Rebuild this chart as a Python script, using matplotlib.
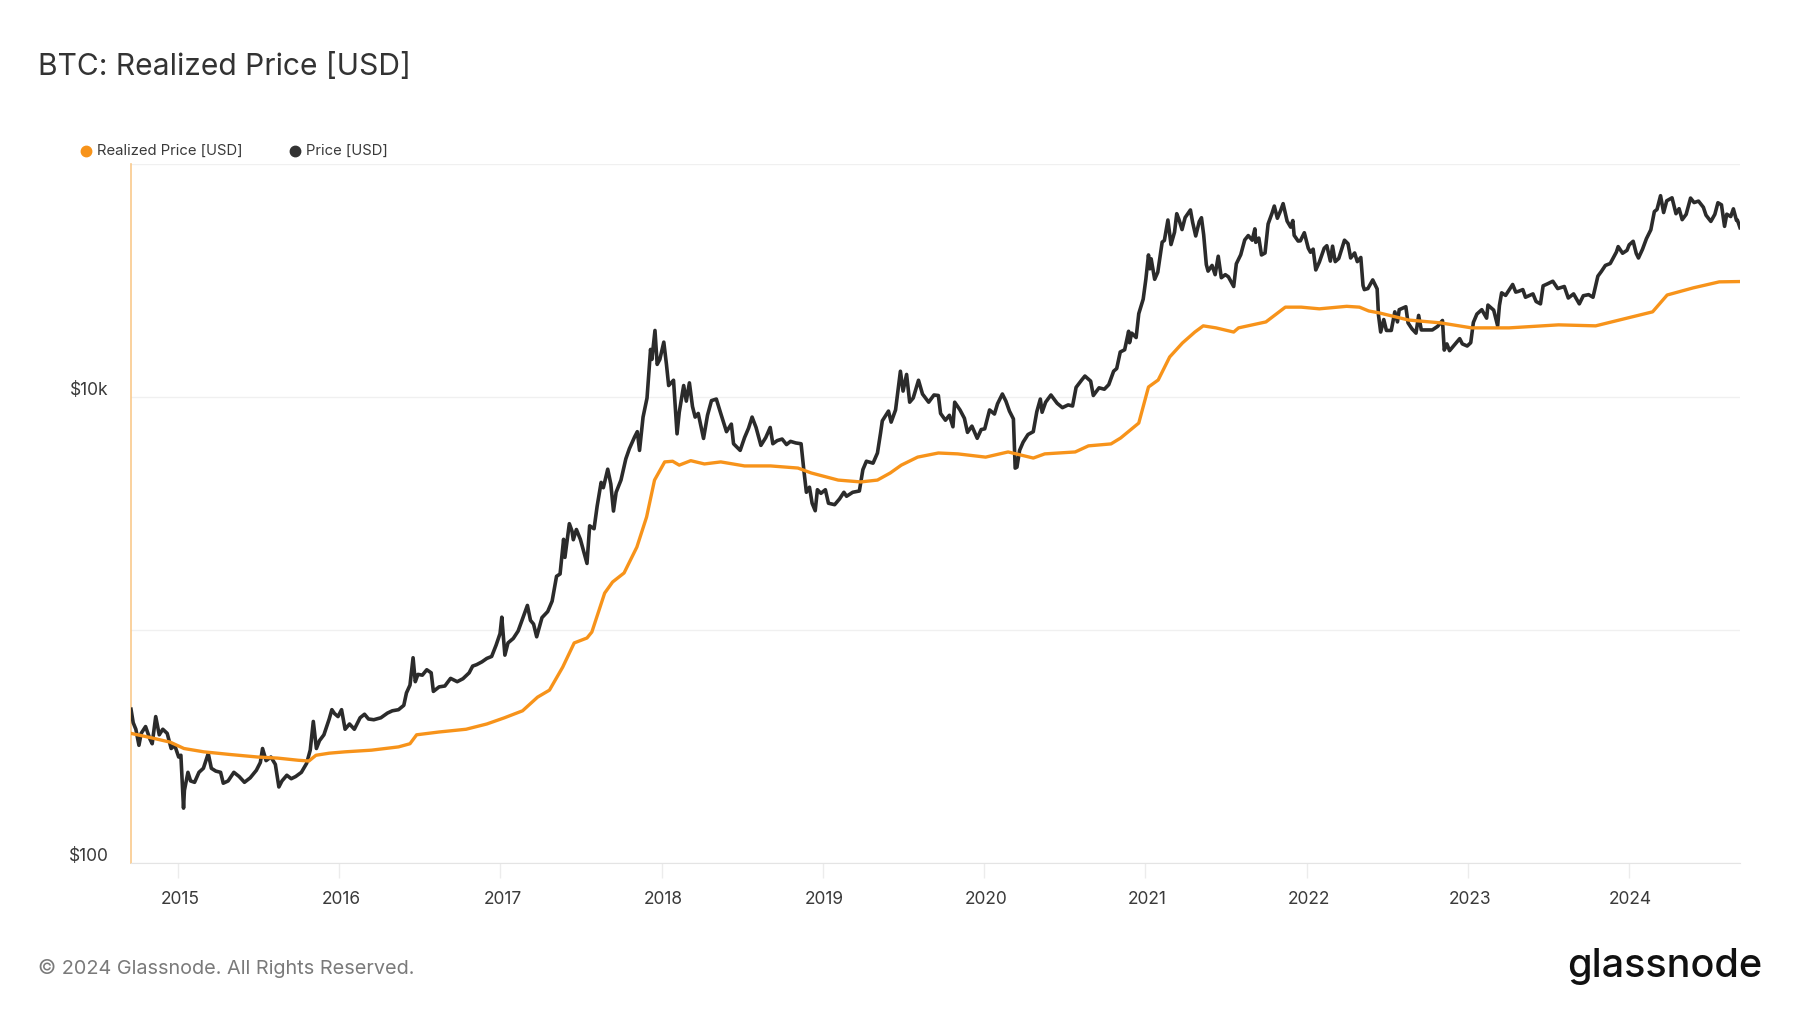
import numpy as np
import pandas as pd
import matplotlib
matplotlib.use("Agg")
import matplotlib.pyplot as plt
import matplotlib.dates as mdates
from matplotlib.lines import Line2D
from matplotlib.transforms import ScaledTranslation

plt.rcParams['font.family'] = ['Inter', 'DejaVu Sans']

# BTC price [USD] (dates, close)
price_points = [
    ("2014-09-17", 457), ("2014-09-22", 400), ("2014-09-28", 375), ("2014-10-05", 320), ("2014-10-10", 360),
    ("2014-10-20", 385), ("2014-10-30", 340), ("2014-11-04", 325), ("2014-11-12", 425), ("2014-11-20", 355),
    ("2014-11-28", 375), ("2014-12-08", 360), ("2014-12-17", 310), ("2014-12-25", 320),
    ("2015-01-03", 285), ("2015-01-08", 290), ("2015-01-14", 172), ("2015-01-16", 205), ("2015-01-24", 245),
    ("2015-01-30", 225), ("2015-02-08", 222), ("2015-02-18", 245), ("2015-02-28", 255), ("2015-03-11", 295),
    ("2015-03-18", 255), ("2015-03-28", 248), ("2015-04-08", 245), ("2015-04-14", 220), ("2015-04-25", 225),
    ("2015-05-08", 245), ("2015-05-20", 235), ("2015-06-01", 222), ("2015-06-14", 232), ("2015-06-28", 250),
    ("2015-07-07", 270), ("2015-07-12", 310), ("2015-07-20", 275), ("2015-07-31", 285), ("2015-08-10", 265),
    ("2015-08-18", 212), ("2015-08-25", 225), ("2015-09-05", 238), ("2015-09-15", 230), ("2015-09-25", 235),
    ("2015-10-08", 245), ("2015-10-20", 268), ("2015-10-28", 305), ("2015-11-04", 405), ("2015-11-11", 310),
    ("2015-11-18", 335), ("2015-11-28", 355), ("2015-12-10", 415), ("2015-12-16", 455), ("2015-12-22", 438),
    ("2015-12-30", 425),
    ("2016-01-07", 455), ("2016-01-15", 375), ("2016-01-25", 395), ("2016-02-05", 375), ("2016-02-18", 420),
    ("2016-02-28", 435), ("2016-03-08", 415), ("2016-03-20", 412), ("2016-04-05", 420), ("2016-04-20", 440),
    ("2016-05-01", 450), ("2016-05-15", 455), ("2016-05-27", 475), ("2016-06-02", 537), ("2016-06-10", 580),
    ("2016-06-17", 760), ("2016-06-22", 600), ("2016-06-28", 645), ("2016-07-08", 640), ("2016-07-18", 675),
    ("2016-07-28", 655), ("2016-08-02", 545), ("2016-08-15", 570), ("2016-08-28", 575), ("2016-09-10", 620),
    ("2016-09-25", 600), ("2016-10-08", 618), ("2016-10-22", 655), ("2016-10-30", 700), ("2016-11-08", 710),
    ("2016-11-20", 730), ("2016-12-01", 755), ("2016-12-12", 770), ("2016-12-22", 860), ("2016-12-31", 965),
    ("2017-01-04", 1135), ("2017-01-11", 780), ("2017-01-18", 880), ("2017-01-30", 920), ("2017-02-10", 990),
    ("2017-02-24", 1170), ("2017-03-03", 1275), ("2017-03-10", 1100), ("2017-03-17", 1060), ("2017-03-24", 935),
    ("2017-04-05", 1130), ("2017-04-18", 1200), ("2017-04-28", 1330), ("2017-05-08", 1700), ("2017-05-16", 1740),
    ("2017-05-24", 2450), ("2017-05-27", 2050), ("2017-06-06", 2860), ("2017-06-12", 2660), ("2017-06-15", 2440),
    ("2017-06-22", 2700), ("2017-07-01", 2450), ("2017-07-16", 1930), ("2017-07-22", 2800), ("2017-08-01", 2720),
    ("2017-08-08", 3400), ("2017-08-17", 4300), ("2017-08-22", 4080), ("2017-09-01", 4900), ("2017-09-08", 4230),
    ("2017-09-14", 3240), ("2017-09-20", 3900), ("2017-10-01", 4400), ("2017-10-12", 5430), ("2017-10-20", 6000),
    ("2017-11-01", 6750), ("2017-11-07", 7100), ("2017-11-12", 5900), ("2017-11-20", 8200), ("2017-11-29", 9900),
    ("2017-12-07", 16000), ("2017-12-10", 14500), ("2017-12-17", 19300), ("2017-12-22", 13800), ("2017-12-28", 14500),
    ("2018-01-06", 17200), ("2018-01-12", 13800), ("2018-01-17", 11200), ("2018-01-28", 11800), ("2018-02-05", 6950),
    ("2018-02-10", 8600), ("2018-02-20", 11200), ("2018-02-26", 9600), ("2018-03-05", 11500), ("2018-03-12", 9100),
    ("2018-03-18", 8200), ("2018-03-25", 8500), ("2018-04-06", 6640), ("2018-04-15", 8350), ("2018-04-24", 9650),
    ("2018-05-05", 9800), ("2018-05-15", 8500), ("2018-05-28", 7100), ("2018-06-08", 7650), ("2018-06-13", 6300),
    ("2018-06-28", 5900), ("2018-07-08", 6700), ("2018-07-17", 7350), ("2018-07-25", 8200), ("2018-08-03", 7400),
    ("2018-08-14", 6200), ("2018-08-25", 6700), ("2018-09-04", 7400), ("2018-09-10", 6300), ("2018-09-20", 6500),
    ("2018-10-01", 6600), ("2018-10-11", 6250), ("2018-10-20", 6450), ("2018-11-01", 6350), ("2018-11-13", 6300),
    ("2018-11-19", 4900), ("2018-11-25", 3900), ("2018-12-02", 4100), ("2018-12-08", 3500), ("2018-12-15", 3250),
    ("2018-12-20", 4000), ("2018-12-28", 3860),
    ("2019-01-07", 4000), ("2019-01-14", 3500), ("2019-01-28", 3450), ("2019-02-08", 3650), ("2019-02-18", 3900),
    ("2019-02-24", 3750), ("2019-03-10", 3900), ("2019-03-25", 3950), ("2019-04-02", 4880), ("2019-04-10", 5300),
    ("2019-04-25", 5200), ("2019-05-05", 5750), ("2019-05-12", 7000), ("2019-05-16", 7900), ("2019-05-30", 8700),
    ("2019-06-05", 7800), ("2019-06-15", 8800), ("2019-06-26", 12900), ("2019-07-02", 10600), ("2019-07-10", 12500),
    ("2019-07-17", 9500), ("2019-07-25", 9900), ("2019-08-06", 11800), ("2019-08-15", 10300), ("2019-08-29", 9500),
    ("2019-09-10", 10200), ("2019-09-20", 10150), ("2019-09-25", 8500), ("2019-10-06", 7950), ("2019-10-15", 8350),
    ("2019-10-23", 7450), ("2019-10-27", 9500), ("2019-11-08", 8800), ("2019-11-18", 8100), ("2019-11-25", 7050),
    ("2019-12-05", 7500), ("2019-12-17", 6650), ("2019-12-26", 7250),
    ("2020-01-03", 7300), ("2020-01-14", 8800), ("2020-01-25", 8450), ("2020-02-01", 9350), ("2020-02-12", 10300),
    ("2020-02-20", 9600), ("2020-02-28", 8700), ("2020-03-08", 8050), ("2020-03-12", 4950), ("2020-03-16", 5000),
    ("2020-03-22", 5900), ("2020-03-30", 6400), ("2020-04-10", 6900), ("2020-04-22", 7100), ("2020-04-30", 8650),
    ("2020-05-08", 9800), ("2020-05-12", 8600), ("2020-05-20", 9500), ("2020-06-01", 10200), ("2020-06-15", 9400),
    ("2020-06-27", 9000), ("2020-07-10", 9250), ("2020-07-20", 9150), ("2020-07-28", 11000), ("2020-08-10", 11850),
    ("2020-08-17", 12300), ("2020-08-30", 11700), ("2020-09-05", 10150), ("2020-09-18", 10950), ("2020-09-30", 10800),
    ("2020-10-10", 11300), ("2020-10-21", 12900), ("2020-10-28", 13250), ("2020-11-05", 15600), ("2020-11-15", 15950),
    ("2020-11-24", 19150), ("2020-11-26", 17100), ("2020-12-01", 18800), ("2020-12-11", 18000), ("2020-12-17", 22800),
    ("2020-12-27", 26300),
    ("2021-01-02", 32000), ("2021-01-08", 40700), ("2021-01-11", 35500), ("2021-01-14", 39200), ("2021-01-22", 32000),
    ("2021-01-29", 34300), ("2021-02-08", 46200), ("2021-02-13", 47000), ("2021-02-21", 57500), ("2021-02-28", 45100),
    ("2021-03-08", 51000), ("2021-03-13", 61200), ("2021-03-18", 57800), ("2021-03-25", 52300), ("2021-04-01", 58900),
    ("2021-04-13", 63500), ("2021-04-18", 56200), ("2021-04-25", 49100), ("2021-05-03", 56600), ("2021-05-08", 58800),
    ("2021-05-13", 49700), ("2021-05-19", 37000), ("2021-05-23", 34700), ("2021-06-01", 36700), ("2021-06-08", 33500),
    ("2021-06-15", 40200), ("2021-06-22", 32500), ("2021-07-01", 33500), ("2021-07-08", 32800), ("2021-07-20", 29800),
    ("2021-07-26", 37300), ("2021-08-05", 40800), ("2021-08-14", 47200), ("2021-08-22", 49300), ("2021-08-31", 47100),
    ("2021-09-06", 52700), ("2021-09-08", 46100), ("2021-09-15", 48100), ("2021-09-21", 40700), ("2021-09-29", 41500),
    ("2021-10-06", 55300), ("2021-10-15", 61600), ("2021-10-20", 66000), ("2021-10-27", 58500), ("2021-11-03", 62900),
    ("2021-11-09", 67600), ("2021-11-18", 56900), ("2021-11-26", 53600), ("2021-12-01", 57200), ("2021-12-04", 49400),
    ("2021-12-13", 46700), ("2021-12-18", 46800), ("2021-12-27", 50700),
    ("2022-01-05", 43500), ("2022-01-10", 41800), ("2022-01-16", 43100), ("2022-01-22", 35100), ("2022-01-30", 37900),
    ("2022-02-10", 43500), ("2022-02-16", 44600), ("2022-02-24", 38300), ("2022-03-01", 44400), ("2022-03-07", 38100),
    ("2022-03-15", 39300), ("2022-03-28", 47100), ("2022-04-05", 45500), ("2022-04-11", 39500), ("2022-04-20", 41500),
    ("2022-04-26", 38100), ("2022-05-04", 39700), ("2022-05-09", 30100), ("2022-05-12", 28900), ("2022-05-20", 29200),
    ("2022-05-31", 31800), ("2022-06-10", 29100), ("2022-06-13", 22500), ("2022-06-18", 19000), ("2022-06-25", 21500),
    ("2022-07-01", 19300), ("2022-07-12", 19300), ("2022-07-20", 23200), ("2022-07-26", 21000), ("2022-07-30", 23700),
    ("2022-08-14", 24400), ("2022-08-19", 20800), ("2022-08-28", 19600), ("2022-09-06", 18800), ("2022-09-12", 22400),
    ("2022-09-18", 19400), ("2022-09-30", 19400), ("2022-10-13", 19400), ("2022-10-25", 20100), ("2022-11-05", 21300),
    ("2022-11-09", 15900), ("2022-11-15", 16900), ("2022-11-21", 15800), ("2022-12-05", 17000), ("2022-12-14", 17800),
    ("2022-12-20", 16900), ("2022-12-31", 16550),
    ("2023-01-08", 17100), ("2023-01-14", 20900), ("2023-01-22", 22700), ("2023-02-02", 23700), ("2023-02-13", 21800),
    ("2023-02-16", 24800), ("2023-03-01", 23600), ("2023-03-10", 20200), ("2023-03-14", 24700), ("2023-03-19", 28000),
    ("2023-03-28", 27300), ("2023-04-13", 30400), ("2023-04-20", 28200), ("2023-04-26", 28400), ("2023-05-06", 28900),
    ("2023-05-12", 26800), ("2023-05-29", 27700), ("2023-06-05", 25700), ("2023-06-15", 25100), ("2023-06-21", 30000),
    ("2023-07-01", 30600), ("2023-07-13", 31400), ("2023-07-24", 29200), ("2023-08-08", 29800), ("2023-08-17", 26600),
    ("2023-08-29", 27700), ("2023-09-11", 25100), ("2023-09-20", 27200), ("2023-10-02", 27500), ("2023-10-12", 26800),
    ("2023-10-23", 33000), ("2023-10-31", 34600), ("2023-11-09", 36700), ("2023-11-20", 37400), ("2023-12-04", 41900),
    ("2023-12-08", 44200), ("2023-12-18", 41400), ("2023-12-28", 42600),
    ("2024-01-02", 45000), ("2024-01-11", 46600), ("2024-01-18", 41300), ("2024-01-23", 39500), ("2024-02-01", 43000),
    ("2024-02-10", 47800), ("2024-02-20", 52200), ("2024-02-28", 62500), ("2024-03-05", 63800), ("2024-03-13", 73100),
    ("2024-03-20", 61900), ("2024-03-27", 69500), ("2024-04-08", 71600), ("2024-04-17", 61200), ("2024-04-24", 64300),
    ("2024-05-01", 57700), ("2024-05-10", 60800), ("2024-05-20", 71400), ("2024-05-28", 68300), ("2024-06-07", 69300),
    ("2024-06-18", 65200), ("2024-06-24", 60300), ("2024-07-05", 56700), ("2024-07-14", 60800), ("2024-07-21", 68200),
    ("2024-07-29", 66800), ("2024-08-05", 54000), ("2024-08-10", 60900), ("2024-08-19", 59500), ("2024-08-25", 64200),
    ("2024-09-01", 57300), ("2024-09-03", 57500), ("2024-09-09", 53300),
]

# BTC realized price [USD]
realized_points = [
    ("2014-09-17", 360), ("2014-11-01", 345), ("2014-12-15", 330), ("2015-01-15", 310), ("2015-03-01", 300),
    ("2015-05-01", 292), ("2015-07-01", 285), ("2015-08-15", 282), ("2015-10-01", 276), ("2015-10-25", 274),
    ("2015-11-10", 290), ("2015-12-10", 296), ("2016-01-15", 300), ("2016-03-15", 305), ("2016-05-15", 315),
    ("2016-06-10", 325), ("2016-06-25", 355), ("2016-08-15", 365), ("2016-10-15", 375), ("2016-12-01", 395),
    ("2017-01-10", 420), ("2017-02-20", 450), ("2017-03-26", 515), ("2017-04-22", 552), ("2017-05-22", 693),
    ("2017-06-17", 880), ("2017-07-16", 924), ("2017-07-27", 980), ("2017-08-25", 1440), ("2017-09-12", 1607),
    ("2017-10-08", 1757), ("2017-11-06", 2270), ("2017-11-28", 3055), ("2017-12-16", 4400), ("2018-01-08", 5265),
    ("2018-01-26", 5300), ("2018-02-10", 5100), ("2018-03-08", 5330), ("2018-04-08", 5160), ("2018-05-15", 5265),
    ("2018-07-08", 5060), ("2018-09-05", 5060), ("2018-11-06", 4955), ("2018-12-06", 4720), ("2019-02-05", 4400),
    ("2019-03-28", 4320), ("2019-05-05", 4400), ("2019-06-03", 4720), ("2019-06-28", 5100), ("2019-08-04", 5520),
    ("2019-09-20", 5750), ("2019-11-03", 5700), ("2020-01-05", 5520), ("2020-02-25", 5810), ("2020-04-22", 5470),
    ("2020-05-18", 5700), ("2020-07-26", 5810), ("2020-08-25", 6170), ("2020-10-15", 6290), ("2020-11-06", 6670),
    ("2020-12-17", 7730), ("2021-01-08", 11040), ("2021-01-30", 11830), ("2021-02-25", 14850), ("2021-03-26", 17060),
    ("2021-04-23", 19000), ("2021-05-12", 20200), ("2021-06-10", 19800), ("2021-07-20", 19000), ("2021-07-31", 19800),
    ("2021-10-01", 21000), ("2021-11-14", 24300), ("2021-12-20", 24300), ("2022-01-30", 23900), ("2022-04-02", 24500),
    ("2022-05-01", 24300), ("2022-05-22", 23400), ("2022-06-15", 22950), ("2022-08-20", 21400), ("2022-11-01", 20800),
    ("2023-01-10", 19800), ("2023-04-05", 19800), ("2023-07-26", 20400), ("2023-10-18", 20200), ("2023-12-28", 21800),
    ("2024-02-24", 23200), ("2024-03-28", 27400), ("2024-05-26", 29400), ("2024-07-24", 31200), ("2024-09-09", 31300),
]

year_ticks = list(range(2015, 2025))
y_ticks = [100, 1000, 10000, 100000]
y_tick_labels = ["$100", "", "$10k", ""]

price_dates = pd.to_datetime([d for d, _ in price_points])
price_usd = np.array([v for _, v in price_points], dtype=float)
realized_dates = pd.to_datetime([d for d, _ in realized_points])
realized_usd = np.array([v for _, v in realized_points], dtype=float)

ORANGE = "#F7931A"
DARK = "#2b2b2b"

W, H = 1800, 1013
fig = plt.figure(figsize=(W / 100, H / 100), dpi=100)
ax = fig.add_axes([131 / W, 1 - 863 / H, (1740 - 131) / W, (863 - 164) / H])

ax.plot(price_dates, price_usd, color=DARK, lw=2.6, solid_joinstyle="round", zorder=3)
ax.plot(realized_dates, realized_usd, color=ORANGE, lw=2.4, solid_joinstyle="round", zorder=4)

ax.set_yscale("log")
ax.set_ylim(100, 100000)
ax.set_xlim(pd.Timestamp("2014-09-17"), pd.Timestamp("2024-09-09"))

ax.set_yticks(y_ticks)
ax.set_yticklabels(y_tick_labels)
ax.yaxis.set_minor_locator(matplotlib.ticker.NullLocator())
ax.tick_params(axis="y", length=0, pad=16, labelsize=12.5, labelcolor="#3a3a3a")
for lab in ax.get_yticklabels():
    lab.set_transform(lab.get_transform() + ScaledTranslation(0, 0.09, fig.dpi_scale_trans))
ax.grid(axis="y", color="#f0f0f0", lw=1)

ax.set_xticks([pd.Timestamp(f"{y}-01-01") for y in year_ticks])
ax.xaxis.set_major_formatter(mdates.DateFormatter("%Y"))
ax.tick_params(axis="x", length=11, width=1, color="#ececec", pad=9, labelsize=12.5, labelcolor="#3a3a3a")
for lab in ax.get_xticklabels():
    lab.set_transform(lab.get_transform() + ScaledTranslation(0.02, 0, fig.dpi_scale_trans))

for s in ["top", "right"]:
    ax.spines[s].set_visible(False)
ax.spines["left"].set_color("#f9c98c")
ax.spines["left"].set_linewidth(1.2)
ax.spines["bottom"].set_color("#e4e4e4")
ax.set_axisbelow(True)

# title
fig.text(38 / W, 1 - 67 / H, "BTC: Realized Price [USD]", fontsize=21.6, color="#333333", va="center", ha="left")

# legend
leg_y = 1 - 151 / H
for x_dot, x_txt, col, label in [(86, 97, ORANGE, "Realized Price [USD]"), (295, 306, "#333333", "Price [USD]")]:
    fig.add_artist(Line2D([x_dot / W], [leg_y], marker="o", markersize=7.5, color=col, transform=fig.transFigure))
    fig.text(x_txt / W, leg_y, label, fontsize=10.7, color="#3a3a3a", va="center", ha="left")

# footer
fig.text(38 / W, 1 - 968 / H, "\u00a9 2024 Glassnode. All Rights Reserved.", fontsize=14.3, color="#7a7a7a",
         va="center", ha="left")
fig.text(1762 / W, 1 - 966 / H, "glassnode", fontsize=28.5, color="#111111", va="center", ha="right",
         fontweight="medium")

fig.savefig("out.png", dpi=100, facecolor="white")
